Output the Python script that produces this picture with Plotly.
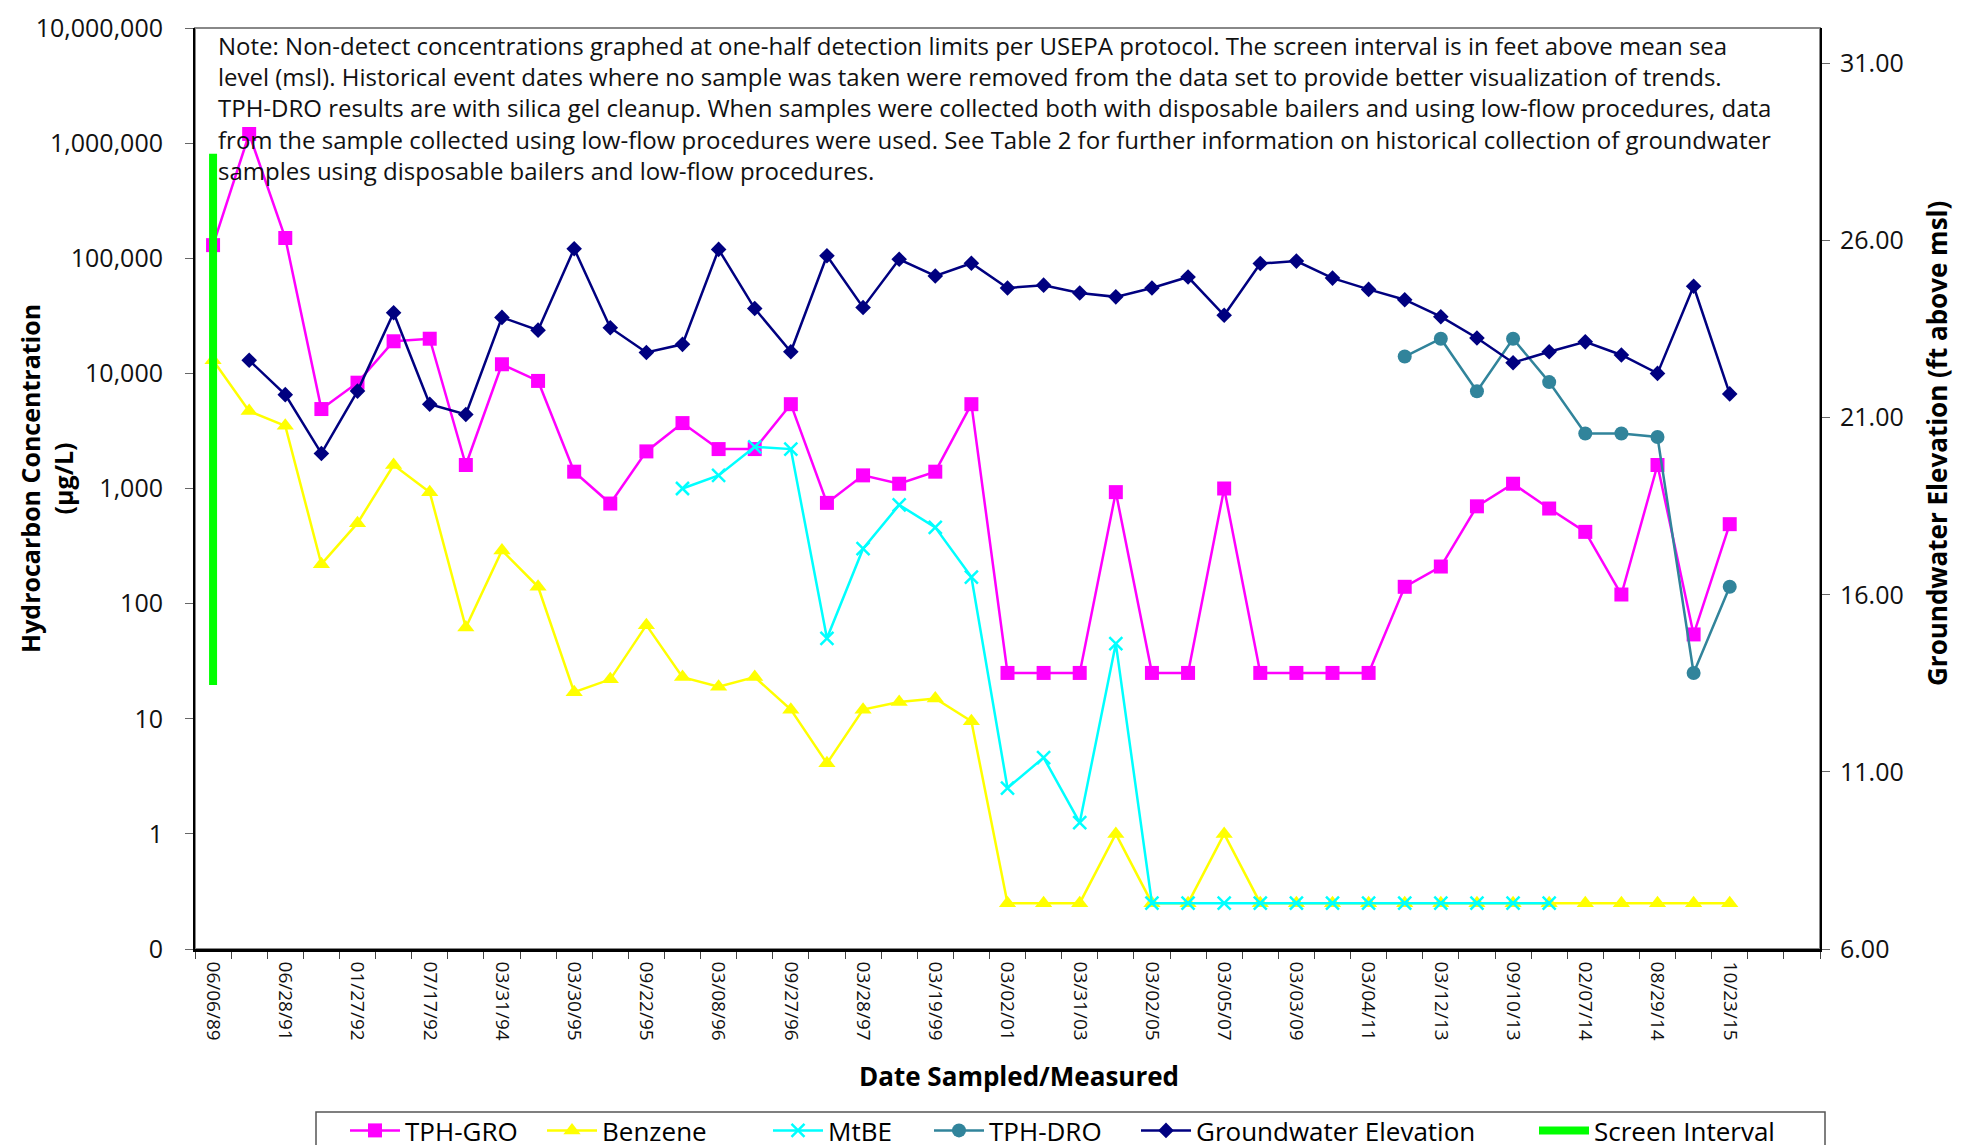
import plotly.graph_objects as go

# ---------------- data ----------------
# sample-event index 0..42 (labels shown on every other event)
n_events = 43
x_labels = ["06/06/89", "06/28/91", "01/27/92", "07/17/92", "03/31/94", "03/30/95",
            "09/22/95", "03/08/96", "09/27/96", "03/28/97", "03/19/99", "03/02/01",
            "03/31/03", "03/02/05", "03/05/07", "03/03/09", "03/04/11", "03/12/13",
            "09/10/13", "02/07/14", "08/29/14", "10/23/15"]

tph_gro = [130000, 1200000, 150000, 4900, 8300, 19000, 20000, 1600, 12000, 8600,
           1400, 740, 2100, 3700, 2200, 2200, 5400, 750, 1300, 1100,
           1400, 5400, 25, 25, 25, 930, 25, 25, 1000, 25,
           25, 25, 25, 140, 210, 700, 1100, 670, 420, 120,
           1600, 54, 490]

benzene = [13000, 4700, 3500, 220, 500, 1600, 930, 62, 290, 140,
           17, 22, 65, 23, 19, 23, 12, 4.1, 12, 14,
           15, 9.5, 0.25, 0.25, 0.25, 1.0, 0.25, 0.25, 1.0, 0.25,
           0.25, 0.25, 0.25, 0.25, 0.25, 0.25, 0.25, 0.25, 0.25, 0.25,
           0.25, 0.25, 0.25]

mtbe = [None] * 13 + [1000, 1300, 2300, 2200, 50, 300, 720, 460, 170, 2.5,
                      4.6, 1.25, 45, 0.25, 0.25, 0.25, 0.25, 0.25, 0.25, 0.25,
                      0.25, 0.25, 0.25, 0.25, 0.25] + [None] * 5

tph_dro = [None] * 33 + [14000, 20000, 7000, 20000, 8400, 3000, 3000, 2800, 25, 140]

gw_elev = [None, 22.62, 21.65, 19.99, 21.75, 23.96, 21.38, 21.09, 23.83, 23.47,
           25.77, 23.54, 22.84, 23.07, 25.75, 24.08, 22.86, 25.57, 24.11, 25.47,
           25.00, 25.36, 24.66, 24.74, 24.52, 24.41, 24.66, 24.97, 23.89, 25.35,
           25.42, 24.94, 24.62, 24.33, 23.85, 23.25, 22.55, 22.86, 23.14, 22.77,
           22.25, 24.71, 21.67]

screen_x = [0, 0]
screen_elev = [28.45, 13.45]

conc_tickvals = [0.1, 1, 10, 100, 1000, 10000, 100000, 1000000, 10000000]
conc_ticktext = ["0", "1", "10", "100", "1,000", "10,000", "100,000", "1,000,000", "10,000,000"]

note_lines = [
    "Note: Non-detect concentrations graphed at one-half detection limits per USEPA protocol. The screen interval is in feet above mean sea",
    "level (msl). Historical event dates where no sample was taken were removed from the data set to provide better visualization of trends.",
    "TPH-DRO results are with silica gel cleanup. When samples were collected both with disposable bailers and using low-flow procedures, data",
    "from the sample collected using low-flow procedures were used. See Table 2 for further information on historical collection of groundwater",
    "samples using disposable bailers and low-flow procedures.",
]

# ---------------- figure ----------------
FONT = "Open Sans"
xs = list(range(n_events))
W, H = 1969, 1145
L, R, T, B = 187, 157, 20, 204
pw, ph = W - L - R, H - T - B

def px_x(px):
    return (px - L) / pw

def px_y(py):
    return (H - B - py) / ph

fig = go.Figure()

fig.add_trace(go.Scatter(x=xs, y=tph_gro, name="TPH-GRO", mode="lines+markers",
                         legend="legend",
                         line=dict(color="#FF00FF", width=2.5),
                         marker=dict(symbol="square", size=14, color="#FF00FF")))
fig.add_trace(go.Scatter(x=xs, y=benzene, name="Benzene", mode="lines+markers",
                         legend="legend2",
                         line=dict(color="#FFFF00", width=2.5),
                         marker=dict(symbol="triangle-up", size=15, color="#FFFF00")))
fig.add_trace(go.Scatter(x=xs, y=mtbe, name="MtBE", mode="lines+markers",
                         legend="legend3",
                         line=dict(color="#00FFFF", width=2.5),
                         marker=dict(symbol="x-thin", size=13, color="#00FFFF",
                                     line=dict(color="#00FFFF", width=2.5))))
fig.add_trace(go.Scatter(x=xs, y=tph_dro, name="TPH-DRO", mode="lines+markers",
                         legend="legend4",
                         line=dict(color="#31849B", width=2.5),
                         marker=dict(symbol="circle", size=14, color="#31849B")))
fig.add_trace(go.Scatter(x=xs, y=gw_elev, name="Groundwater Elevation", mode="lines+markers",
                         legend="legend5", yaxis="y2", line=dict(color="#000080", width=2.5),
                         marker=dict(symbol="diamond", size=12, color="#000080")))
fig.add_trace(go.Scatter(x=screen_x, y=screen_elev, name="Screen Interval", mode="lines",
                         legend="legend6", yaxis="y2", line=dict(color="#00FF00", width=8)))

tick_font = dict(family=FONT, size=25, color="#111")

# one legend per entry so each sits where the reference places it
legend_item_px = [345, 542, 768, 929, 1136, 1534]
legend_names = ["legend", "legend2", "legend3", "legend4", "legend5", "legend6"]
legend_layout = {}
for name, xp in zip(legend_names, legend_item_px):
    legend_layout[name] = dict(orientation="h", x=px_x(xp - 8), y=px_y(1099),
                               xanchor="left", yanchor="top", borderwidth=0,
                               bgcolor="rgba(0,0,0,0)", itemwidth=50,
                               font=dict(family=FONT, size=26, color="black"))

fig.update_layout(
    width=W, height=H,
    margin=dict(l=L, r=R, t=T, b=B, autoexpand=False),
    paper_bgcolor="white", plot_bgcolor="white",
    font=dict(family=FONT, color="black"),
    showlegend=True,
    **legend_layout,
    xaxis=dict(range=[-0.5, 44.5], tickmode="array",
               tickvals=list(range(0, n_events, 2)), ticktext=x_labels,
               tickangle=90, ticks="", tickfont=dict(family=FONT, size=19, color="#111"),
               showgrid=False, zeroline=False, showline=True, linecolor="black", linewidth=2.5,
               ticklabelstandoff=6,
               minor=dict(tickmode="linear", tick0=-0.5, dtick=1, ticks="outside",
                          ticklen=7, tickcolor="#444", tickwidth=1, showgrid=False)),
    yaxis=dict(type="log", range=[-1, 7], tickmode="array",
               tickvals=conc_tickvals, ticktext=conc_ticktext,
               ticks="outside", ticklen=8, tickcolor="#666", tickfont=tick_font,
               showgrid=False, zeroline=False, showline=True, linecolor="black", linewidth=2,
               ticklabelstandoff=17),
    yaxis2=dict(overlaying="y", side="right", range=[6, 32], tick0=6, dtick=5,
                tickformat=".2f", ticks="outside", ticklen=8, tickcolor="#666",
                tickfont=tick_font, showgrid=False, zeroline=False,
                showline=True, linecolor="black", linewidth=2, ticklabelstandoff=5),
)

# grey plot-area border (top edge visible)
fig.add_shape(type="rect", xref="paper", yref="paper", x0=0, x1=1, y0=0, y1=1,
              line=dict(color="#888", width=2), layer="below")

# legend frame (runs off the bottom edge like the reference)
fig.add_shape(type="rect", xref="paper", yref="paper",
              x0=px_x(308), x1=px_x(1817), y0=px_y(1160), y1=px_y(1104),
              line=dict(color="#555", width=1.5), fillcolor="rgba(0,0,0,0)", layer="below")

# note text
fig.add_annotation(xref="paper", yref="paper", x=px_x(208), y=px_y(19),
                   xanchor="left", yanchor="top", align="left", showarrow=False,
                   text="<br>".join(note_lines),
                   font=dict(family=FONT, size=24, color="#111"))

# axis titles
fig.add_annotation(xref="paper", yref="paper", x=px_x(1011), y=px_y(1068),
                   xanchor="center", yanchor="middle", showarrow=False,
                   text="<b>Date Sampled/Measured</b>", font=dict(family=FONT, size=26))
fig.add_annotation(xref="paper", yref="paper", x=px_x(38), y=px_y(471),
                   xanchor="center", yanchor="middle", showarrow=False, textangle=-90,
                   text="<b>Hydrocarbon Concentration<br>(µg/L)</b>",
                   font=dict(family=FONT, size=25))
fig.add_annotation(xref="paper", yref="paper", x=px_x(1929), y=px_y(436),
                   xanchor="center", yanchor="middle", showarrow=False, textangle=-90,
                   text="<b>Groundwater Elevation (ft above msl)</b>",
                   font=dict(family=FONT, size=26))

fig.write_html("out.html")
